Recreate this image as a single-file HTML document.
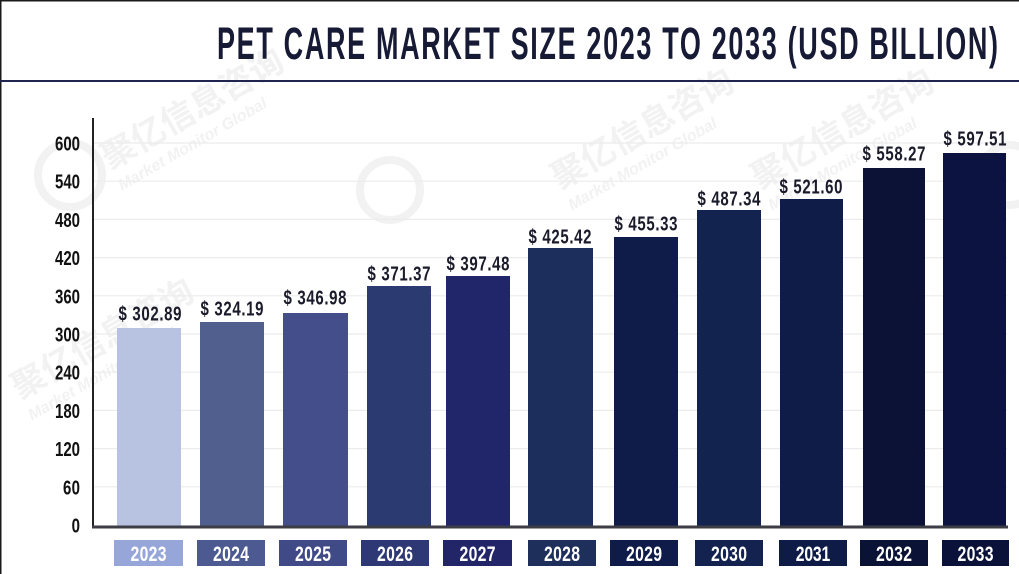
<!DOCTYPE html>
<html>
<head>
<meta charset="utf-8">
<style>
html,body{margin:0;padding:0;background:#fff;}
svg{display:block;}
</style>
</head>
<body>
<svg width="1019" height="574" viewBox="0 0 1019 574" xmlns="http://www.w3.org/2000/svg">
  <rect x="0" y="0" width="1019" height="574" fill="#ffffff"/>
  <!-- frame -->
  <rect x="0" y="0" width="1019" height="1.5" fill="#1a1a1a"/>
  <rect x="0" y="0" width="1.5" height="574" fill="#1a1a1a"/>

  <!-- watermarks -->
  <g font-family="'Liberation Sans','Noto Sans CJK SC',sans-serif" font-weight="bold" fill="#f2f2f2">
    <g transform="translate(110,170) rotate(-30)"><text font-size="34">聚亿信息咨询</text><text y="24" font-size="16" font-style="italic">Market Monitor Global</text></g>
    <g transform="translate(560,190) rotate(-30)"><text font-size="34">聚亿信息咨询</text><text y="24" font-size="16" font-style="italic">Market Monitor Global</text></g>
    <g transform="translate(760,190) rotate(-30)"><text font-size="34">聚亿信息咨询</text><text y="24" font-size="16" font-style="italic">Market Monitor Global</text></g>
    <g transform="translate(20,400) rotate(-30)"><text font-size="34">聚亿信息咨询</text><text y="24" font-size="16" font-style="italic">Market Monitor Global</text></g>
  </g>
  <g fill="none" stroke="#f2f2f2" stroke-width="8">
    <circle cx="70" cy="175" r="32"/>
    <circle cx="390" cy="190" r="30"/>
    <circle cx="1010" cy="175" r="30"/>
  </g>

  <!-- title -->
  <g transform="scale(0.6,1)">
    <text x="361.7" y="59" font-family="'Liberation Sans Narrow','Liberation Sans',sans-serif" font-weight="bold" font-size="45" fill="#161a35" textLength="1301.7" lengthAdjust="spacing">PET CARE MARKET SIZE 2023 TO 2033 (USD BILLION)</text>
  </g>
  <rect x="0" y="80" width="1019" height="2" fill="#23234f"/>

  <!-- gridlines -->
  <g stroke="#ececec" stroke-width="1.2">
    <line x1="94" y1="143" x2="1007" y2="143"/>
    <line x1="94" y1="181.2" x2="1007" y2="181.2"/>
    <line x1="94" y1="219.4" x2="1007" y2="219.4"/>
    <line x1="94" y1="257.6" x2="1007" y2="257.6"/>
    <line x1="94" y1="295.8" x2="1007" y2="295.8"/>
    <line x1="94" y1="334" x2="1007" y2="334"/>
    <line x1="94" y1="372.2" x2="1007" y2="372.2"/>
    <line x1="94" y1="410.4" x2="1007" y2="410.4"/>
    <line x1="94" y1="448.6" x2="1007" y2="448.6"/>
    <line x1="94" y1="486.8" x2="1007" y2="486.8"/>
  </g>

  <!-- y tick labels -->
  <g transform="scale(0.75,1)" font-family="'Liberation Sans Narrow','Liberation Sans',sans-serif" font-weight="bold" font-size="20" fill="#111" text-anchor="end" lengthAdjust="spacing">
    <text x="106.667" y="150.5" textLength="33.333">600</text>
    <text x="106.667" y="188.7" textLength="33.333">540</text>
    <text x="106.667" y="226.9" textLength="33.333">480</text>
    <text x="106.667" y="265.1" textLength="33.333">420</text>
    <text x="106.667" y="303.3" textLength="33.333">360</text>
    <text x="106.667" y="341.5" textLength="33.333">300</text>
    <text x="106.667" y="379.7" textLength="33.333">240</text>
    <text x="106.667" y="417.9" textLength="33.333">180</text>
    <text x="106.667" y="456.1" textLength="33.333">120</text>
    <text x="106.667" y="494.3" textLength="22.667">60</text>
    <text x="106.667" y="532.5" textLength="12">0</text>
  </g>

  <!-- bars -->
  <rect x="117" y="328" width="64" height="199" fill="#b8c3e2"/>
  <rect x="200" y="322" width="64" height="205" fill="#515f8f"/>
  <rect x="283" y="313" width="65" height="214" fill="#444e8a"/>
  <rect x="367" y="286" width="64" height="241" fill="#2c3a72"/>
  <rect x="446" y="276" width="64" height="251" fill="#21266a"/>
  <rect x="528" y="248" width="65" height="279" fill="#1c2f5c"/>
  <rect x="614" y="237" width="64" height="290" fill="#0f1b48"/>
  <rect x="697" y="210" width="64" height="317" fill="#13234f"/>
  <rect x="780" y="199" width="63" height="328" fill="#0f1c48"/>
  <rect x="863" y="168" width="62" height="359" fill="#0b1236"/>
  <rect x="943" y="153" width="63" height="374" fill="#0d1340"/>

  <!-- axes -->
  <rect x="92" y="118" width="2" height="410" fill="#222"/>
  <rect x="92" y="525.5" width="916" height="3" fill="#3d3d45"/>

  <!-- value labels -->
  <g transform="scale(0.75,1)" font-family="'Liberation Sans Narrow','Liberation Sans',sans-serif" font-weight="bold" font-size="20" fill="#1a1a2a" text-anchor="middle" lengthAdjust="spacing">
    <text x="200" y="320.5" textLength="84">$ 302.89</text>
    <text x="309.333" y="315.5" textLength="84">$ 324.19</text>
    <text x="420" y="304.5" textLength="84">$ 346.98</text>
    <text x="532" y="280.5" textLength="84">$ 371.37</text>
    <text x="637.333" y="270.5" textLength="84">$ 397.48</text>
    <text x="746.667" y="243.5" textLength="84">$ 425.42</text>
    <text x="861.333" y="230.5" textLength="84">$ 455.33</text>
    <text x="972" y="205.5" textLength="84">$ 487.34</text>
    <text x="1081.333" y="193.5" textLength="84">$ 521.60</text>
    <text x="1192" y="160.5" textLength="84">$ 558.27</text>
    <text x="1300" y="145.5" textLength="84">$ 597.51</text>
  </g>

  <!-- year boxes -->
  <rect x="114" y="540" width="69" height="26" fill="#97a6d8"/>
  <rect x="197" y="540" width="68" height="26" fill="#4d5a92"/>
  <rect x="279" y="540" width="68" height="26" fill="#3f4a86"/>
  <rect x="361" y="540" width="68" height="26" fill="#2d3874"/>
  <rect x="443" y="540" width="69" height="26" fill="#222668"/>
  <rect x="528" y="540" width="68" height="26" fill="#1e2f5c"/>
  <rect x="610" y="540" width="68" height="26" fill="#0f1b48"/>
  <rect x="695" y="540" width="68" height="26" fill="#13224f"/>
  <rect x="779" y="540" width="68" height="26" fill="#0e1b46"/>
  <rect x="860" y="540" width="68" height="26" fill="#0a1236"/>
  <rect x="942" y="540" width="67" height="26" fill="#0b123a"/>

  <g transform="scale(0.75,1)" font-family="'Liberation Sans Narrow','Liberation Sans',sans-serif" font-weight="bold" font-size="21" fill="#ffffff" text-anchor="middle" lengthAdjust="spacing">
    <text x="198" y="561" textLength="48">2023</text>
    <text x="308" y="561" textLength="48">2024</text>
    <text x="417.333" y="561" textLength="48">2025</text>
    <text x="526.667" y="561" textLength="48">2026</text>
    <text x="636.667" y="561" textLength="48">2027</text>
    <text x="749.333" y="561" textLength="48">2028</text>
    <text x="858.667" y="561" textLength="48">2029</text>
    <text x="972" y="561" textLength="48">2030</text>
    <text x="1084" y="561" textLength="46">2031</text>
    <text x="1192" y="561" textLength="48">2032</text>
    <text x="1300.667" y="561" textLength="48">2033</text>
  </g>
</svg>
</body>
</html>
